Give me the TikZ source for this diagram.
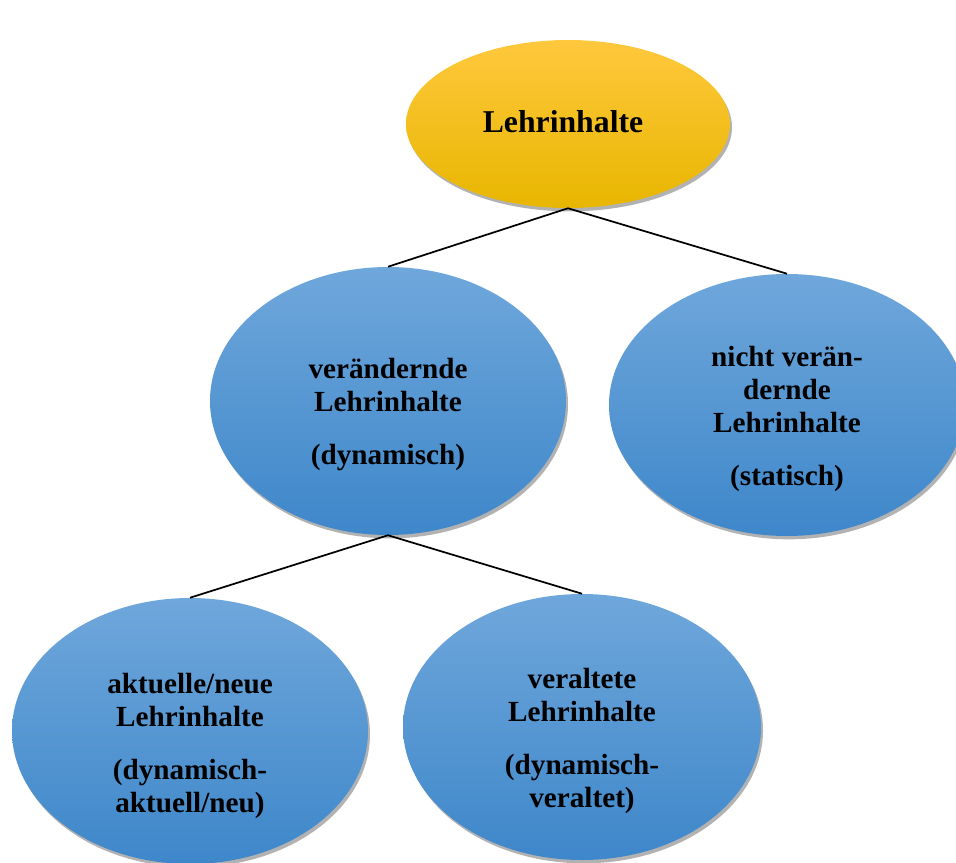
\documentclass[tikz,border=0pt]{standalone}
\usepackage{fontspec}
\setmainfont{Liberation Serif}
\usetikzlibrary{shapes.geometric,shadows}

\definecolor{goldtop}{HTML}{FFC83D}
\definecolor{goldbot}{HTML}{E8B600}
\definecolor{bluetop}{HTML}{6FA7DB}
\definecolor{bluebot}{HTML}{3E87CA}

\tikzset{
    blob/.style={ellipse, inner sep=0pt, top color=bluetop, bottom color=bluebot,
        drop shadow={shadow xshift=1.5pt, shadow yshift=-2.5pt, opacity=0.3, fill=black}},
    goldblob/.style={blob, top color=goldtop, bottom color=goldbot},
    lbl/.style={align=center, font=\fontsize{21.9}{24.75}\selectfont\bfseries},
    toplbl/.style={lbl, font=\fontsize{23.8}{24.75}\selectfont\bfseries},
    link/.style={black, line width=1.3pt}
}

\begin{document}
\begin{tikzpicture}[x=0.75pt, y=-0.75pt]
    \useasboundingbox (0,0) rectangle (956,863);

    \node[goldblob, minimum width=243pt, minimum height=126pt] (root) at (568,124) {};
    \node[blob, minimum width=267pt, minimum height=201pt] (dyn) at (388,401) {};
    \node[blob, minimum width=267pt, minimum height=196.5pt] (stat) at (787,405) {};
    \node[blob, minimum width=267pt, minimum height=199.5pt] (neu) at (190,731) {};
    \node[blob, minimum width=268.5pt, minimum height=199.5pt] (alt) at (582,727) {};

    \draw[link] (root.south) -- (dyn.north);
    \draw[link] (root.south) -- (stat.north);
    \draw[link] (dyn.south) -- (neu.north);
    \draw[link] (dyn.south) -- (alt.north);

    \node[toplbl] (rootlbl) at (563,122) {Lehrinhalte};
    \node[lbl] (dynlbl) at (388,415) {verändernde\\Lehrinhalte\\[15pt](dynamisch)};
    \node[lbl] (statlbl) at (787,419) {nicht verän-\\dernde\\Lehrinhalte\\[15pt](statisch)};
    \node[lbl] (neulbl) at (190,746) {aktuelle/neue\\Lehrinhalte\\[15pt](dynamisch-\\aktuell/neu)};
    \node[lbl] (altlbl) at (582,741) {veraltete\\Lehrinhalte\\[15pt](dynamisch-\\veraltet)};
\end{tikzpicture}
\end{document}
